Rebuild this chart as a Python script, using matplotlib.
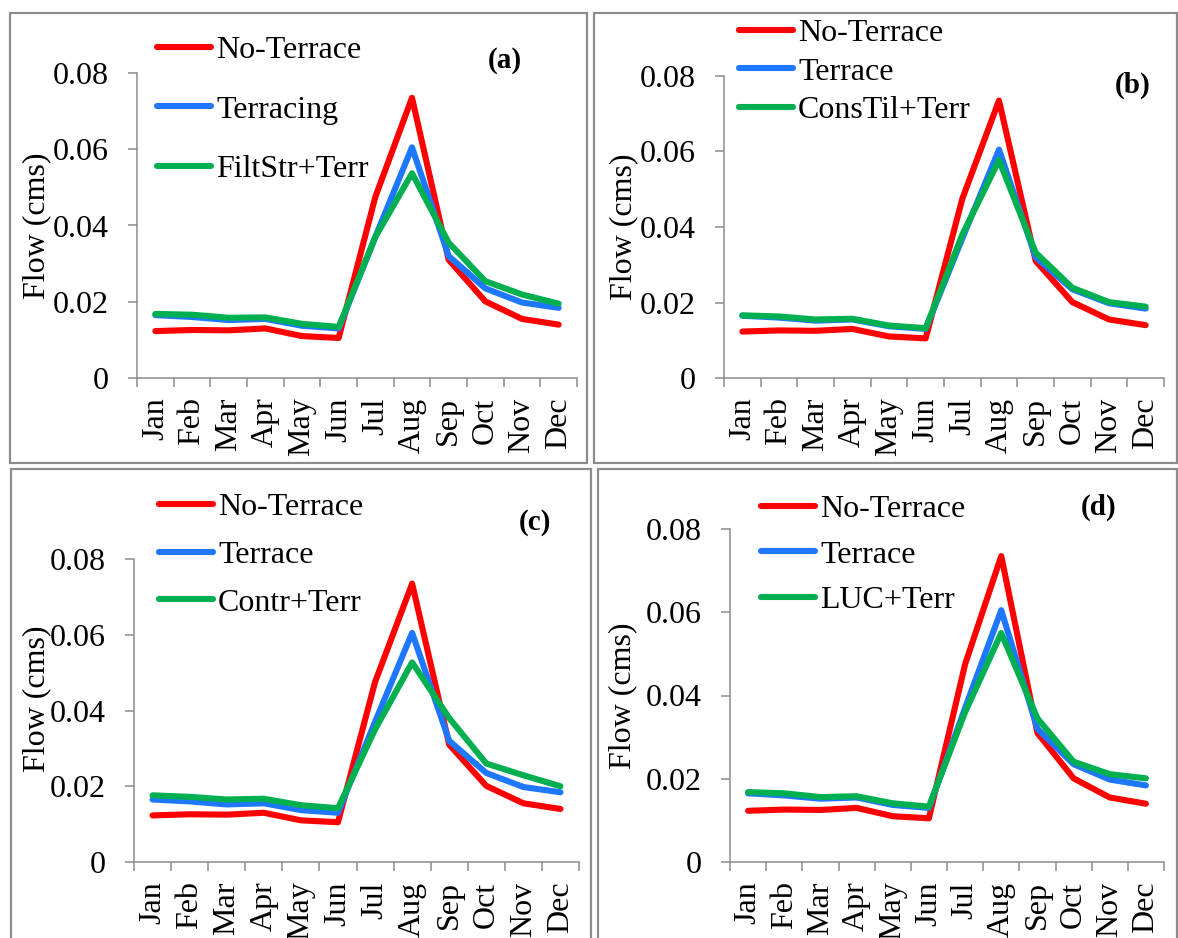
#!/usr/bin/env python3

import matplotlib
matplotlib.use("Agg")
import matplotlib.pyplot as plt
from matplotlib.patches import Rectangle
from matplotlib.ticker import FixedLocator

months = ["Jan", "Feb", "Mar", "Apr", "May", "Jun",
          "Jul", "Aug", "Sep", "Oct", "Nov", "Dec"]

no_terrace = [0.0123, 0.0126, 0.0125, 0.0130, 0.0110, 0.0105,
              0.0475, 0.0735, 0.0310, 0.0201, 0.0155, 0.0140]
terrace = [0.0165, 0.0160, 0.0152, 0.0155, 0.0137, 0.0130,
           0.0370, 0.0605, 0.0320, 0.0235, 0.0198, 0.0184]
filtstr_terr = [0.0168, 0.0166, 0.0158, 0.0159, 0.0142, 0.0134,
                0.0370, 0.0537, 0.0355, 0.0254, 0.0219, 0.0195]
constil_terr = [0.0166, 0.0163, 0.0155, 0.0157, 0.0139, 0.0132,
                0.0380, 0.0577, 0.0332, 0.0239, 0.0201, 0.0189]
contr_terr = [0.0176, 0.0172, 0.0165, 0.0167, 0.0150, 0.0142,
              0.0350, 0.0527, 0.0380, 0.0260, 0.0229, 0.0200]
luc_terr = [0.0168, 0.0165, 0.0156, 0.0158, 0.0141, 0.0133,
            0.0360, 0.0550, 0.0345, 0.0241, 0.0211, 0.0201]

yticks = [0, 0.02, 0.04, 0.06, 0.08]
ytick_labels = ["0", "0.02", "0.04", "0.06", "0.08"]

W, H = 1178, 938
RED, BLUE, GREEN = "#FF0000", "#1E78FF", "#00B050"
GRAY = "#8C8C8C"
FS = 23

plt.rcParams["font.family"] = ["Liberation Serif", "DejaVu Serif"]
plt.rcParams["font.size"] = FS


def fx(px):
    return px / W


def fy(py):
    return 1 - py / H


# axes box px (left, right, top, bottom), frame px, legend anchor, row spacing, tag pos
panels = [
    dict(box=(137, 577, 73, 378), frame=(10, 587, 13, 463), tag="(a)", tag_xy=(505, 60),
         series=[("No-Terrace", no_terrace, RED), ("Terracing", terrace, BLUE),
                 ("FiltStr+Terr", filtstr_terr, GREEN)],
         leg=(157, 110), spacing=0.95, ylab=(-0.195, 0.5)),
    dict(box=(724, 1164, 76, 378), frame=(594, 1177, 13, 463), tag="(b)", tag_xy=(1133, 85),
         series=[("No-Terrace", no_terrace, RED), ("Terrace", terrace, BLUE),
                 ("ConsTil+Terr", constil_terr, GREEN)],
         leg=(739, 72), spacing=0.28, ylab=(-0.195, 0.5)),
    dict(box=(134, 579, 559, 862), frame=(11, 591, 469, 960), tag="(c)", tag_xy=(535, 523),
         series=[("No-Terrace", no_terrace, RED), ("Terrace", terrace, BLUE),
                 ("Contr+Terr", contr_terr, GREEN)],
         leg=(159, 555), spacing=0.58, ylab=(-0.187, 0.54)),
    dict(box=(730, 1164, 529, 862), frame=(598, 1177, 469, 960), tag="(d)", tag_xy=(1099, 507),
         series=[("No-Terrace", no_terrace, RED), ("Terrace", terrace, BLUE),
                 ("LUC+Terr", luc_terr, GREEN)],
         leg=(761, 555), spacing=0.5, ylab=(-0.214, 0.5)),
]


def main():
    fig = plt.figure(figsize=(W / 100, H / 100), dpi=100)
    x = list(range(len(months)))

    for p in panels:
        fl, fr, ft, fb = p["frame"]
        fig.patches.append(Rectangle((fx(fl), fy(fb)), fx(fr - fl), (fb - ft) / H,
                                     transform=fig.transFigure, fill=False,
                                     edgecolor=GRAY, linewidth=1.6, zorder=0))

        l, r, t, b = p["box"]
        ax = fig.add_axes([fx(l), fy(b), fx(r - l), (b - t) / H])
        for label, vals, col in p["series"]:
            ax.plot(x, vals, color=col, lw=4.4, label=label,
                    solid_capstyle="round", solid_joinstyle="round")

        ax.set_xlim(-0.5, 11.5)
        ax.set_ylim(0, 0.08)
        for s in ["top", "right"]:
            ax.spines[s].set_visible(False)
        for s in ["left", "bottom"]:
            ax.spines[s].set_color(GRAY)
            ax.spines[s].set_linewidth(1.1)

        ax.set_yticks(yticks)
        ax.set_yticklabels(ytick_labels)
        ax.tick_params(axis="y", direction="out", length=6.5, width=1.1,
                       color=GRAY, pad=13.5, labelsize=FS)

        ax.xaxis.set_major_locator(FixedLocator([i - 0.5 for i in range(13)]))
        ax.xaxis.set_minor_locator(FixedLocator(x))
        ax.set_xticklabels([], minor=False)
        ax.set_xticklabels(months, minor=True, rotation=90)
        ax.tick_params(axis="x", which="major", direction="out", length=6.5,
                       width=1.1, color=GRAY)
        ax.tick_params(axis="x", which="minor", length=0, pad=14, labelsize=FS)

        ax.set_ylabel("Flow (cms)", fontsize=FS)
        ax.yaxis.set_label_coords(*p["ylab"])

        lx, ly = p["leg"]
        ax.legend(loc="center left", bbox_to_anchor=(fx(lx), fy(ly)),
                  bbox_transform=fig.transFigure, frameon=False, fontsize=FS,
                  handlelength=1.7, handletextpad=0.15, borderpad=0,
                  borderaxespad=0, labelspacing=p["spacing"])

        tx, ty = p["tag_xy"]
        fig.text(fx(tx), fy(ty), p["tag"], fontsize=21, fontweight="bold",
                 ha="center", va="center")

    fig.savefig("out.png", dpi=100)


if __name__ == "__main__":
    main()
